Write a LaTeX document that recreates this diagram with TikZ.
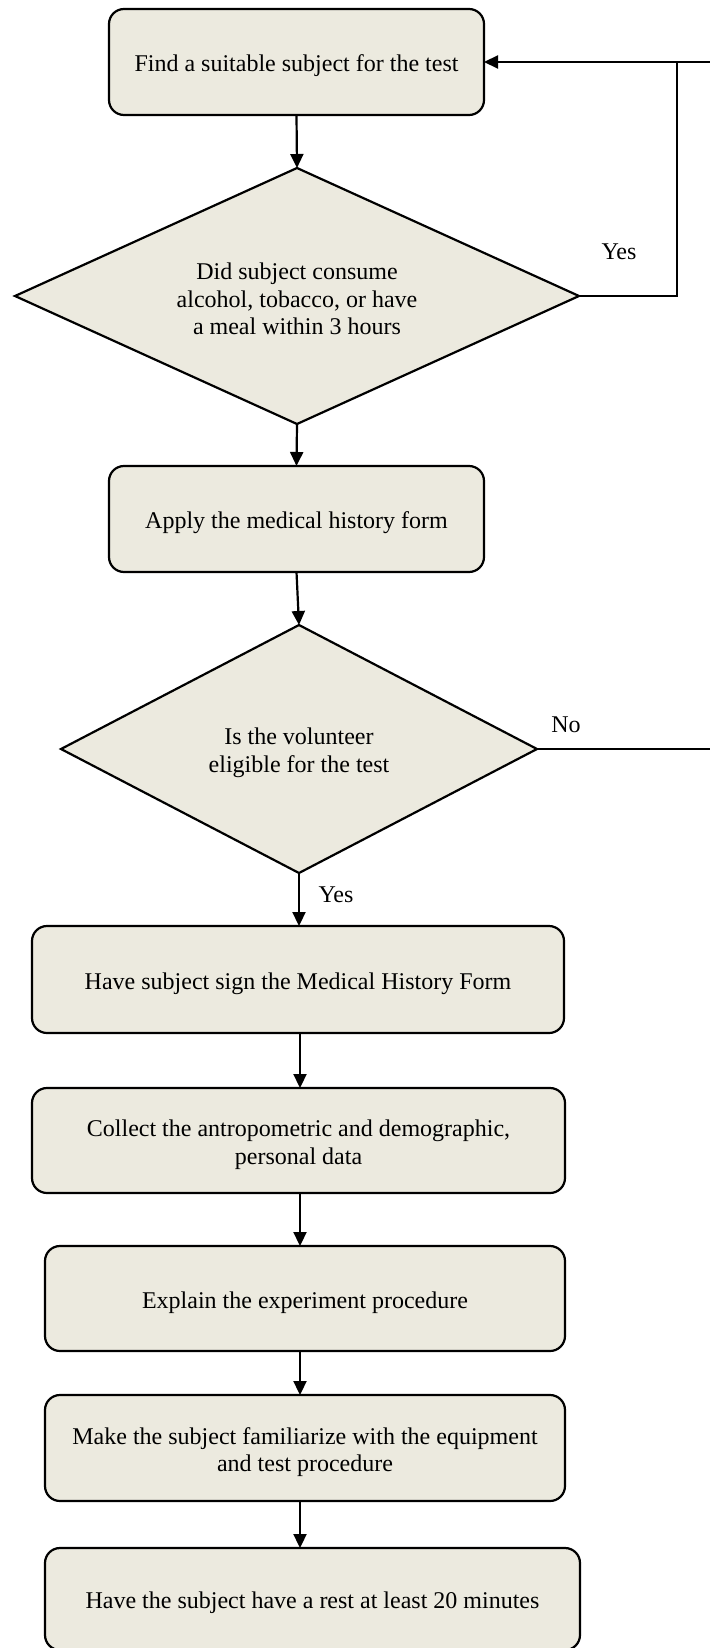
\documentclass[tikz,border=0pt]{standalone}
\usepackage{fontspec}
\setmainfont{Liberation Serif}
\usetikzlibrary{arrows.meta,shapes.geometric,calc}
\definecolor{boxfill}{RGB}{236,234,223}
\tikzset{
  stepbox/.style={draw=black, line width=2.2pt, fill=boxfill, rounded corners=15pt,
    inner sep=0pt, outer sep=0pt},
  decide/.style={draw=black, line width=2.2pt, fill=boxfill, shape=diamond,
    inner sep=0pt, outer sep=0pt},
  txt/.style={align=center, inner sep=0pt, font=\fontsize{24}{27.5}\selectfont},
  conn/.style={draw=black, line width=2.2pt},
  arr/.style={conn, -{Triangle[length=14pt,width=13pt]}},
  lbl/.style={font=\fontsize{24}{28}\selectfont, inner sep=0pt}
}
\begin{document}
\begin{tikzpicture}[x=1pt,y=-1pt]
\useasboundingbox (0,0) rectangle (709,1648);
\node[stepbox, minimum width=375pt, minimum height=106pt] (b1) at (296.5,62) {};
\node[decide, minimum width=564pt, minimum height=256pt] (d1) at (297,296) {};
\node[stepbox, minimum width=375pt, minimum height=106pt] (b2) at (296.5,519) {};
\node[decide, minimum width=476pt, minimum height=248pt] (d2) at (299,749) {};
\node[stepbox, minimum width=532pt, minimum height=107pt] (b3) at (298,979.5) {};
\node[stepbox, minimum width=533pt, minimum height=105pt] (b4) at (298.5,1140.5) {};
\node[stepbox, minimum width=520pt, minimum height=105pt] (b5) at (305,1298.5) {};
\node[stepbox, minimum width=520pt, minimum height=106pt] (b6) at (305,1448) {};
\node[stepbox, minimum width=535pt, minimum height=102pt] (b7) at (312.5,1599) {};

\node[txt] (t1) at ([yshift=-4pt]b1.center) {Find a suitable subject for the test};
\node[txt] (t2) at ([yshift=-3pt]d1.center) {Did subject consume\\alcohol, tobacco, or have\\a meal within 3 hours};
\node[txt] (t3) at ([yshift=-4pt]b2.center) {Apply the medical history form};
\node[txt] (t4) at ([yshift=-4pt]d2.center) {Is the volunteer\\eligible for the test};
\node[txt] (t5) at ([yshift=-4pt]b3.center) {Have subject sign the Medical History Form};
\node[txt] (t6) at ([yshift=-4pt]b4.center) {Collect the antropometric and demographic,\\personal data};
\node[txt] (t7) at ([yshift=-4pt]b5.center) {Explain the experiment procedure};
\node[txt] (t8) at ([yshift=-4pt]b6.center) {Make the subject familiarize with the equipment\\and test procedure};
\node[txt] (t9) at ([yshift=-4pt]b7.center) {Have the subject have a rest at least 20 minutes};

\coordinate (axis) at (300,0);
\coordinate (loopTop) at (677,62);
\coordinate (edgeTop) at (712,62);
\coordinate (edgeNo) at (712,749);

\draw[arr] (b1.south) -- (d1.north);
\draw[arr] (d1.south) -- (b2.north);
\draw[arr] (b2.south) -- (d2.north);
\draw[arr] (d2.south) -- (d2.south |- b3.north);
\draw[arr] (b3.south -| axis) -- (b4.north -| axis);
\draw[arr] (b4.south -| axis) -- (b5.north -| axis);
\draw[arr] (b5.south -| axis) -- (b6.north -| axis);
\draw[arr] (b6.south -| axis) -- (b7.north -| axis);

\draw[arr] (d1.east) -| (loopTop) -- (b1.east |- loopTop);
\draw[conn] (loopTop) -- (edgeTop);
\draw[conn] (d2.east) -- (edgeNo);

\node[lbl] (yes1) at (619,252) {Yes};
\node[lbl] (no2) at (566,725) {No};
\node[lbl] (yes2) at (336,895) {Yes};
\end{tikzpicture}
\end{document}
